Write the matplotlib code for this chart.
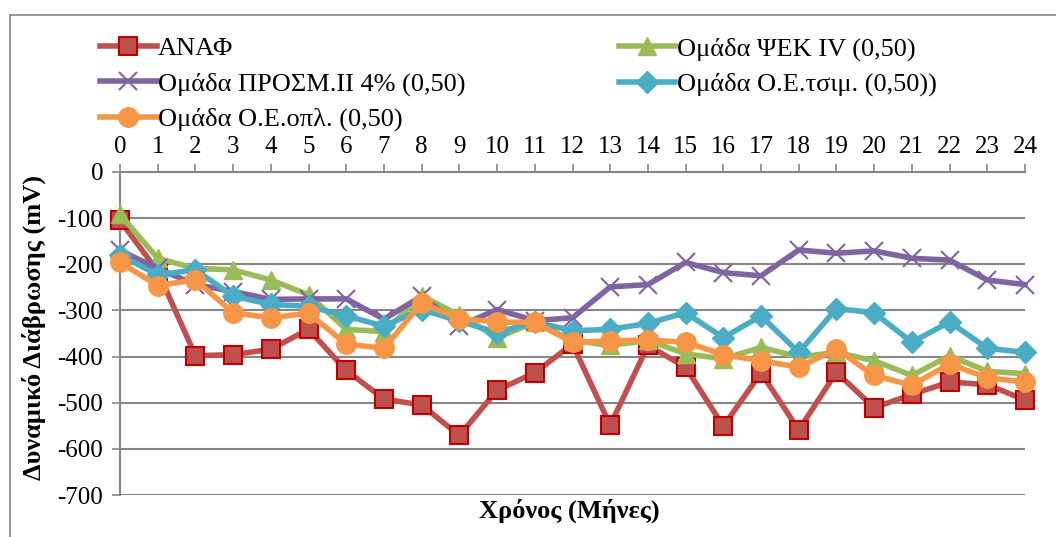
import matplotlib
matplotlib.use("Agg")
import matplotlib.pyplot as plt
from matplotlib.lines import Line2D

# ======================
# DATA
# ======================
months = list(range(0, 25))

anaf = [-105, -215, -398, -396, -384, -341, -430, -492, -505, -571, -473, -435, -373,
        -549, -376, -423, -551, -435, -559, -434, -511, -482, -455, -461, -494]
psek = [-92, -187, -209, -212, -234, -266, -341, -346, -269, -310, -359, -326, -365,
        -376, -365, -394, -405, -380, -401, -391, -409, -441, -398, -432, -437]
prosm = [-170, -209, -244, -259, -276, -275, -275, -319, -269, -334, -298, -322, -316,
         -249, -244, -196, -218, -225, -169, -176, -171, -187, -191, -234, -244]
tsim = [-180, -223, -212, -269, -287, -291, -312, -334, -298, -323, -348, -325, -344,
        -341, -328, -305, -359, -312, -391, -296, -305, -369, -325, -382, -391]
opl = [-196, -246, -234, -305, -316, -306, -373, -382, -284, -318, -325, -326, -369,
       -366, -364, -369, -396, -409, -423, -384, -441, -462, -416, -446, -455]

labels = ["ΑΝΑΦ", "Ομάδα ΨΕΚ IV (0,50)", "Ομάδα ΠΡΟΣΜ.ΙΙ 4% (0,50)",
          "Ομάδα Ο.Ε.τσιμ. (0,50))", "Ομάδα Ο.Ε.οπλ. (0,50)"]
y_ticks = [0, -100, -200, -300, -400, -500, -600, -700]

# ======================
# FIGURE
# ======================
plt.rcParams["font.family"] = ["Liberation Serif", "DejaVu Serif"]
plt.rcParams["axes.unicode_minus"] = False
W, H = 1056, 537
fig = plt.figure(figsize=(W / 100, H / 100), dpi=100)

# outer chart border
fig.add_artist(Line2D([10 / W, 10 / W], [0, 1 - 15 / H], color="#868686", lw=1.2))
fig.add_artist(Line2D([10 / W, 1], [1 - 15 / H, 1 - 15 / H], color="#868686", lw=1.2))

ax = fig.add_axes([120 / W, (H - 495) / H, 905 / W, 323 / H])

grid_c = "#868686"
styles = [
    dict(color="#C0504D", marker="s", mfc="#C0504D", mec="#C00000", ms=13, mew=1.5),
    dict(color="#9BBB59", marker="^", mfc="#9BBB59", mec="#9BBB59", ms=13),
    dict(color="#8064A2", marker="x", mfc="#8064A2", mec="#8064A2", ms=13, mew=1.5),
    dict(color="#4BACC6", marker="D", mfc="#4BACC6", mec="#4BACC6", ms=11),
    dict(color="#F79646", marker="o", mfc="#F79646", mec="#F79646", ms=14),
]
series = [anaf, psek, prosm, tsim, opl]
handles = []
for vals, lab, st in zip(series, labels, styles):
    h, = ax.plot(months, vals, lw=4, label=lab, clip_on=False, zorder=3, **st)
    handles.append(h)

ax.set_xlim(0, 24)
ax.set_ylim(-700, 0)
ax.set_yticks(y_ticks)
ax.set_xticks(months)
ax.xaxis.tick_top()
ax.tick_params(axis="x", labelsize=18, length=6, width=1.2, color=grid_c, pad=4)
ax.tick_params(axis="y", labelsize=18, length=6, width=1.2, color=grid_c, pad=6)
ax.yaxis.grid(True, color=grid_c, lw=1.5)
ax.set_axisbelow(True)
for s in ["right", "bottom"]:
    ax.spines[s].set_visible(False)
for s in ["left", "top"]:
    ax.spines[s].set_color(grid_c)
    ax.spines[s].set_linewidth(1.5)

# axis titles
fig.text(34 / W, 1 - 327 / H, "Δυναμικό Διάβρωσης (mV)", fontsize=19, fontweight="bold",
         rotation=90, ha="center", va="center")
fig.text(569 / W, 1 - 511 / H, "Χρόνος (Μήνες)", fontsize=19, fontweight="bold",
         ha="center", va="center")

# legend: two columns, ordered row by row
order = [0, 2, 4, 1, 3]
fig.legend([handles[i] for i in order], [labels[i] for i in order], ncol=2,
           loc="upper left", bbox_to_anchor=(100 / W, 1 - 37 / H), frameon=False,
           fontsize=19, handlelength=2.15, handletextpad=0.05, columnspacing=5.8,
           labelspacing=0.44, borderaxespad=0, borderpad=0, markerscale=1)

plt.savefig("out.png", dpi=100)
